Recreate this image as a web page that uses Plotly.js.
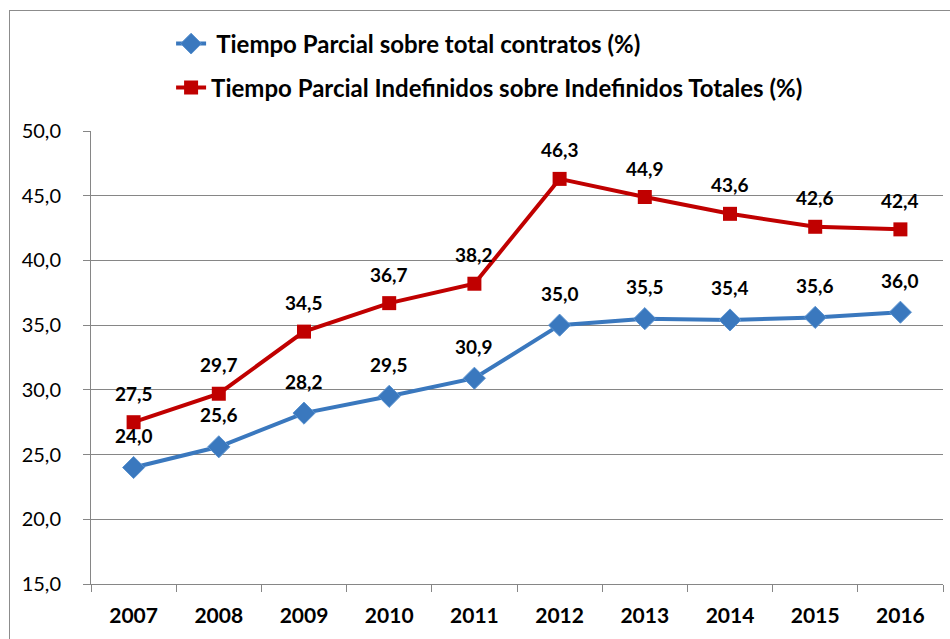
<!DOCTYPE html>
<html>
<head>
<meta charset="utf-8">
<script src="https://cdn.plot.ly/plotly-3.0.1.min.js"></script>
<style>
html,body{margin:0;padding:0;background:#fff;}
#wrap{position:relative;width:950px;height:639px;overflow:hidden;}
#chart{position:absolute;left:0;top:0;width:950px;height:639px;}
#frame{position:absolute;left:9px;top:10px;width:1000px;height:700px;border:1.5px solid #8c8c8c;pointer-events:none;}
</style>
</head>
<body>
<div id="wrap">
<div id="chart"></div>
<div id="frame"></div>
</div>
<script>
const years = ['2007','2008','2009','2010','2011','2012','2013','2014','2015','2016'];
const parcialTotal = [24.0, 25.6, 28.2, 29.5, 30.9, 35.0, 35.5, 35.4, 35.6, 36.0];
const parcialIndef = [27.5, 29.7, 34.5, 36.7, 38.2, 46.3, 44.9, 43.6, 42.6, 42.4];
const nameTotal = 'Tiempo Parcial sobre total contratos (%)';
const nameIndef = 'Tiempo Parcial Indefinidos sobre Indefinidos Totales (%)';
const blue = '#3A78BE';
const red = '#C00000';
const FONT = 'Lato, "Open Sans", sans-serif';

const traces = [
  {x: years, y: parcialTotal, name: '\u00a0' + nameTotal, type: 'scatter', mode: 'lines+markers', legend: 'legend',
   line: {color: blue, width: 4}, marker: {symbol: 'diamond', size: 17, color: blue, line: {color: '#5b93d0', width: 1}}},
  {x: years, y: parcialIndef, name: nameIndef, type: 'scatter', mode: 'lines+markers', legend: 'legend2',
   line: {color: red, width: 4}, marker: {symbol: 'square', size: 14, color: red}}
];

function fmt(v){ return v.toFixed(1).replace('.', ','); }
const annotations = [];
[[parcialTotal, 32], [parcialIndef, 29]].forEach(([series, shift]) => {
  series.forEach((v, i) => {
    annotations.push({x: i, y: v, xref: 'x', yref: 'y', text: '<b>' + fmt(v) + '</b>',
      showarrow: false, yshift: shift, font: {family: FONT, size: 19, color: '#000'}});
  });
});

const legendFont = {family: FONT, size: 24, color: '#000', weight: 'bold'};
const layout = {
  width: 950, height: 639,
  margin: {l: 91, r: 7, t: 131, b: 55},
  paper_bgcolor: '#fff', plot_bgcolor: '#fff',
  separators: ',.',
  font: {family: FONT, color: '#000'},
  showlegend: true,
  legend: {x: 0.094, y: 1.192, xanchor: 'left', yanchor: 'middle', font: legendFont, bgcolor: 'rgba(0,0,0,0)'},
  legend2: {x: 0.094, y: 1.095, xanchor: 'left', yanchor: 'middle', font: legendFont, bgcolor: 'rgba(0,0,0,0)'},
  xaxis: {type: 'category', range: [-0.5, 9.5], showgrid: false, showline: true, linecolor: '#868686', linewidth: 1,
    ticks: 'outside', tickson: 'boundaries', ticklen: 7, tickcolor: '#868686',
    tickfont: {family: FONT, size: 21, weight: 'bold'}, ticklabelstandoff: 13, fixedrange: true},
  yaxis: {range: [15, 50], dtick: 5, tickformat: '.1f', showgrid: true, gridcolor: '#868686', gridwidth: 1,
    showline: true, linecolor: '#868686', linewidth: 1, ticks: 'outside', ticklen: 7, tickcolor: '#868686',
    tickfont: {family: FONT, size: 20}, ticklabelstandoff: 18, zeroline: false, fixedrange: true},
  annotations: annotations
};
Plotly.newPlot('chart', traces, layout, {displayModeBar: false, staticPlot: true});
</script>
</body>
</html>
